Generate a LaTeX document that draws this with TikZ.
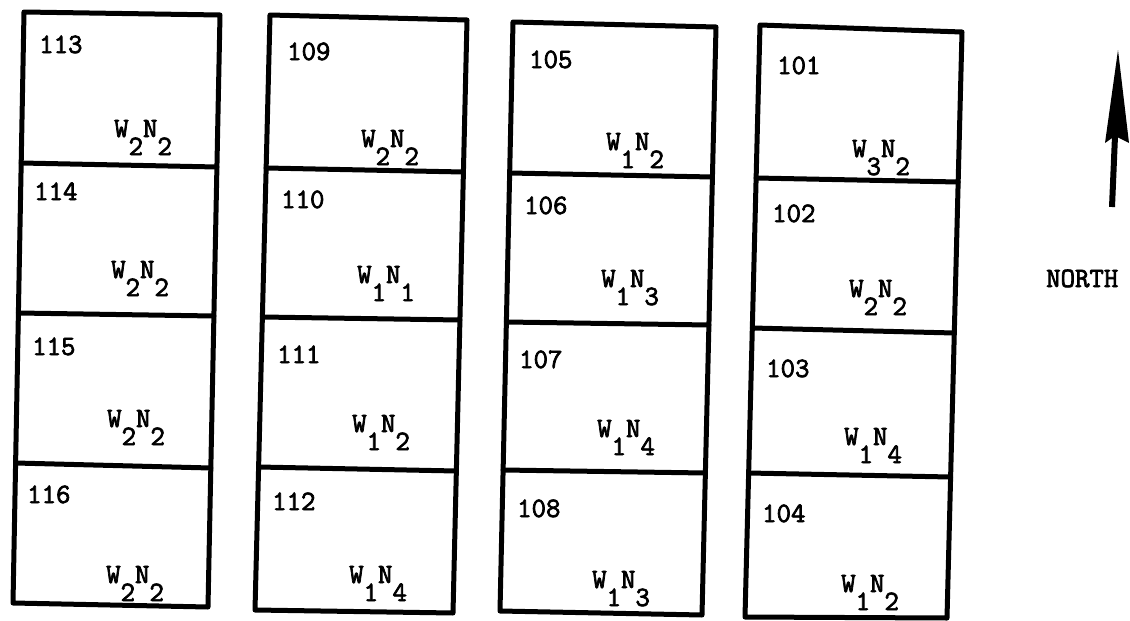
\documentclass[tikz,border=0pt]{standalone}
\usepackage{fontspec}
\newfontfamily\tw{Latin Modern Mono}[FakeBold=2.6]
\newcommand\wn[2]{W\raisebox{-18pt}{#1}N\raisebox{-18pt}{#2}}
\begin{document}
\begin{tikzpicture}[x=1pt,y=-1pt,
  plotline/.style={line width=5pt, line join=round, line cap=round},
  txt/.style={anchor=base west, inner sep=0pt, font=\tw\fontsize{28}{33}\selectfont}]
\useasboundingbox (0,0) rectangle (1130,621);
% column 1 (113-116)
\draw[plotline] (24,12) -- (220,15) -- (208,607) -- (13,603) -- cycle;
\draw[plotline] (21.2,163) -- (216.9,167);
\draw[plotline] (18.4,313) -- (213.9,316);
\draw[plotline] (15.6,463) -- (210.8,468);
% column 2 (109-112)
\draw[plotline] (270,15) -- (467,20) -- (453,613) -- (255,610) -- cycle;
\draw[plotline] (266.1,168) -- (463.4,172);
\draw[plotline] (262.4,317) -- (459.9,320);
\draw[plotline] (258.6,467) -- (456.4,471);
% column 3 (105-108)
\draw[plotline] (513,22) -- (716,27) -- (702,615) -- (500,611) -- cycle;
\draw[plotline] (509.7,173) -- (712.4,177);
\draw[plotline] (506.4,322) -- (708.9,325);
\draw[plotline] (503.1,470) -- (705.4,473);
% column 4 (101-104)
\draw[plotline] (760,25) -- (962,32) -- (947,618) -- (745,617) -- cycle;
\draw[plotline] (756.1,178) -- (958.2,182);
\draw[plotline] (752.3,328) -- (954.3,333);
\draw[plotline] (748.6,473) -- (950.6,477);
% plot numbers
\node[txt] (n113) at (39,53) {113};
\node[txt] (n114) at (34,200) {114};
\node[txt] (n115) at (32,355) {115};
\node[txt] (n116) at (27,503) {116};
\node[txt] (n109) at (287,60) {109};
\node[txt] (n110) at (281,208) {110};
\node[txt] (n111) at (277,363) {111};
\node[txt] (n112) at (272,510) {112};
\node[txt] (n105) at (529,68) {105};
\node[txt] (n106) at (524,214) {106};
\node[txt] (n107) at (519,368) {107};
\node[txt] (n108) at (517,517) {108};
\node[txt] (n101) at (777,74) {101};
\node[txt] (n102) at (772,222) {102};
\node[txt] (n103) at (766,377) {103};
\node[txt] (n104) at (762,522) {104};
% treatments
\node[txt] (l113) at (114,137) {\wn{2}{2}};
\node[txt] (l114) at (111,278) {\wn{2}{2}};
\node[txt] (l115) at (107,427) {\wn{2}{2}};
\node[txt] (l116) at (106,583) {\wn{2}{2}};
\node[txt] (l109) at (361,147) {\wn{2}{2}};
\node[txt] (l110) at (357,283) {\wn{1}{1}};
\node[txt] (l111) at (352,432) {\wn{1}{2}};
\node[txt] (l112) at (349,583) {\wn{1}{4}};
\node[txt] (l105) at (606,150) {\wn{1}{2}};
\node[txt] (l106) at (601,287) {\wn{1}{3}};
\node[txt] (l107) at (597,437) {\wn{1}{4}};
\node[txt] (l108) at (592,588) {\wn{1}{3}};
\node[txt] (l101) at (852,157) {\wn{3}{2}};
\node[txt] (l102) at (849,297) {\wn{2}{2}};
\node[txt] (l103) at (844,445) {\wn{1}{4}};
\node[txt] (l104) at (841,592) {\wn{1}{2}};
% north arrow
\coordinate (tail) at (1112,207);
\coordinate (tip) at (1118,50);
\coordinate (barbL) at (1105,143);
\coordinate (notch) at (1115,136);
\coordinate (barbR) at (1129,143);
\draw[line width=6pt] (tail) -- (notch);
\fill (tip) -- (barbL) -- (notch) -- (barbR) -- cycle;
\node[txt] (north) at (1046,287) {NORTH};
\end{tikzpicture}
\end{document}
